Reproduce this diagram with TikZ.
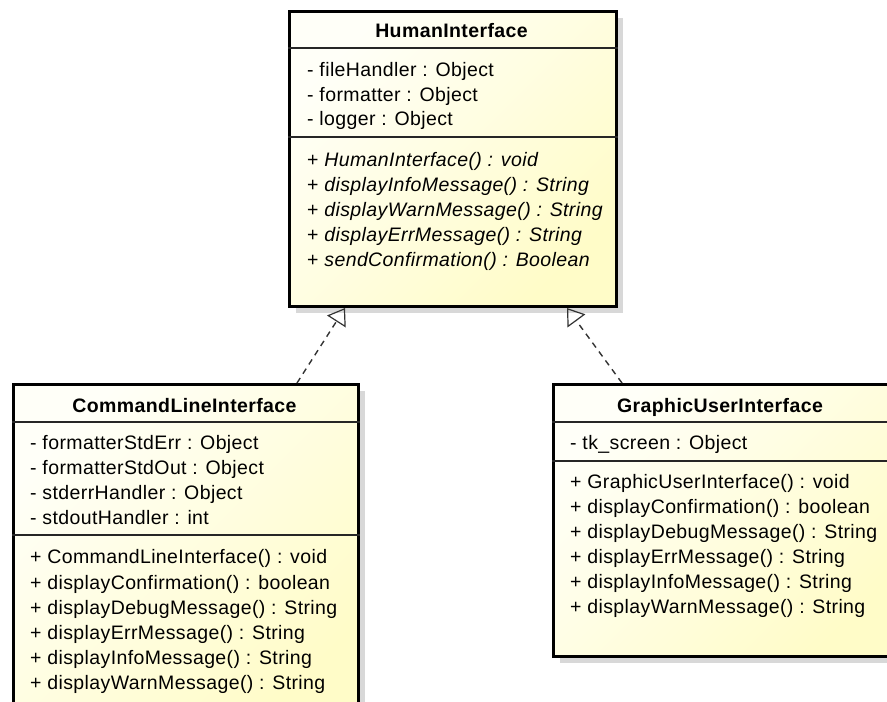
\documentclass[tikz,border=0pt]{standalone}
\usepackage{fontspec}
\setmainfont{Liberation Sans}[LetterSpace=2]
\usetikzlibrary{arrows.meta}

\definecolor{umlTop}{RGB}{255,255,248}
\definecolor{umlBottom}{RGB}{255,252,200}
\definecolor{umlShadow}{RGB}{216,216,216}

\begin{document}
\begin{tikzpicture}[x=1pt, y=-1pt,
    >={Triangle[open, length=16pt, width=22pt, line width=1.2pt]},
    every node/.style={inner sep=0pt, font=\fontsize{19.5}{23}\selectfont},
    classbox/.style={draw=black, line width=3pt, anchor=north west,
      top color=umlTop, bottom color=umlBottom, shading angle=45},
    shadowbox/.style={fill=umlShadow, draw=none, anchor=north west},
    title/.style={font=\fontsize{19.5}{23}\selectfont\bfseries, anchor=base},
    member/.style={anchor=base west},
    divider/.style={line width=1.6pt, draw=black!85},
    realize/.style={->, dashed, line width=1.4pt, dash pattern=on 6pt off 5pt, draw=black!80}]
  \clip (0,0) rectangle (887,702);

  % 1. Schatten
  \node[shadowbox, minimum width=327pt, minimum height=295pt] (hiShadow) at (296,18) {};
  \node[shadowbox, minimum width=345pt, minimum height=340pt] (cliShadow) at (20,391) {};
  \node[shadowbox, minimum width=350pt, minimum height=272pt] (guiShadow) at (560,391) {};

  % 2. Klassenrahmen
  \node[classbox, minimum width=327pt, minimum height=295pt] (hiBox) at (288,10) {};
  \node[classbox, minimum width=345pt, minimum height=340pt] (cliBox) at (12,383) {};
  \node[classbox, minimum width=350pt, minimum height=272pt] (guiBox) at (552,383) {};

  % 3. Trennlinien
  \draw[divider] ([yshift=-38pt]hiBox.north west) -- ([yshift=-38pt]hiBox.north east);
  \draw[divider] ([yshift=-127pt]hiBox.north west) -- ([yshift=-127pt]hiBox.north east);
  \draw[divider] ([yshift=-39pt]cliBox.north west) -- ([yshift=-39pt]cliBox.north east);
  \draw[divider] ([yshift=-152pt]cliBox.north west) -- ([yshift=-152pt]cliBox.north east);
  \draw[divider] ([yshift=-39pt]guiBox.north west) -- ([yshift=-39pt]guiBox.north east);
  \draw[divider] ([yshift=-78pt]guiBox.north west) -- ([yshift=-78pt]guiBox.north east);

  % 4. HumanInterface
  \node[title] (hiName) at (451.5,37.5) {HumanInterface};
  \node[member] (hiA1) at (307,76.5) {- fileHandler : Object};
  \node[member] (hiA2) at (307,101) {- formatter : Object};
  \node[member] (hiA3) at (307,125.5) {- logger : Object};
  \node[member] (hiM1) at (307,166) {+ \textit{HumanInterface() : void}};
  \node[member] (hiM2) at (307,191) {+ \textit{displayInfoMessage() : String}};
  \node[member] (hiM3) at (307,216) {+ \textit{displayWarnMessage() : String}};
  \node[member] (hiM4) at (307,241) {+ \textit{displayErrMessage() : String}};
  \node[member] (hiM5) at (307,266) {+ \textit{sendConfirmation() : Boolean}};

  % 5. CommandLineInterface
  \node[title] (cliName) at (184.5,412) {CommandLineInterface};
  \node[member] (cliA1) at (30,449.5) {- formatterStdErr : Object};
  \node[member] (cliA2) at (30,474.5) {- formatterStdOut : Object};
  \node[member] (cliA3) at (30,499.5) {- stderrHandler : Object};
  \node[member] (cliA4) at (30,524.5) {- stdoutHandler : int};
  \node[member] (cliM1) at (30,563) {+ CommandLineInterface() : void};
  \node[member] (cliM2) at (30,589) {+ displayConfirmation() : boolean};
  \node[member] (cliM3) at (30,614) {+ displayDebugMessage() : String};
  \node[member] (cliM4) at (30,639) {+ displayErrMessage() : String};
  \node[member] (cliM5) at (30,664) {+ displayInfoMessage() : String};
  \node[member] (cliM6) at (30,689) {+ displayWarnMessage() : String};

  % 6. GraphicUserInterface
  \node[title] (guiName) at (720,412) {GraphicUserInterface};
  \node[member] (guiA1) at (570,449.5) {- tk\_screen : Object};
  \node[member] (guiM1) at (570,488) {+ GraphicUserInterface() : void};
  \node[member] (guiM2) at (570,513) {+ displayConfirmation() : boolean};
  \node[member] (guiM3) at (570,538) {+ displayDebugMessage() : String};
  \node[member] (guiM4) at (570,563) {+ displayErrMessage() : String};
  \node[member] (guiM5) at (570,588.5) {+ displayInfoMessage() : String};
  \node[member] (guiM6) at (570,613.5) {+ displayWarnMessage() : String};

  % 7. Realisierungen
  \draw[realize] ([xshift=285pt]cliBox.north west) -- ([xshift=57pt]hiBox.south west);
  \draw[realize] ([xshift=70pt]guiBox.north west) -- ([xshift=279pt]hiBox.south west);
\end{tikzpicture}
\end{document}
